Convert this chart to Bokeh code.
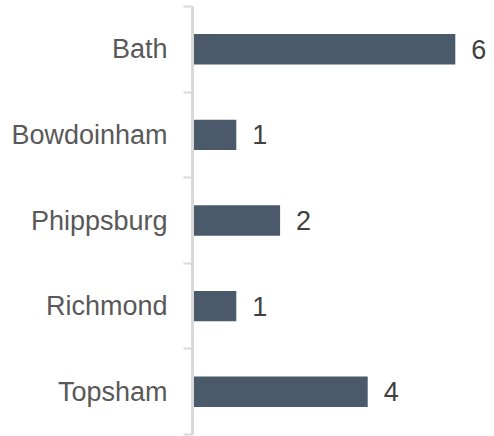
from bokeh.plotting import figure
from bokeh.models import ColumnDataSource, Range1d, FixedTicker
from bokeh.core.properties import value
from bokeh.embed import file_html
from bokeh.resources import INLINE

categories = ["Bath", "Bowdoinham", "Phippsburg", "Richmond", "Topsham"]
counts = [6, 1, 2, 1, 4]
positions = list(range(len(categories)))

source = ColumnDataSource(dict(y=positions, v=counts, lbl=[str(c) for c in counts]))

p = figure(width=494, height=436, output_backend="svg", toolbar_location=None,
           x_range=Range1d(0, 6.895), y_range=Range1d(len(categories) - 0.5, -0.5),
           min_border_left=192, min_border_right=0, min_border_top=6, min_border_bottom=2)

p.hbar(y="y", right="v", left=0, height=0.355, source=source,
       fill_color="#4a5a6b", line_color=None)

p.text(x="v", y="y", text="lbl", source=source, x_offset=16,
       text_baseline="middle", text_align="left",
       text_font=value("Liberation Sans"), text_font_size="27px", text_color="#404040")

p.xaxis.visible = False
p.xgrid.visible = False
p.ygrid.visible = False
p.outline_line_color = None

ax = p.yaxis[0]
ax.ticker = FixedTicker(ticks=positions, minor_ticks=[i - 0.5 for i in range(len(categories) + 1)])
ax.major_label_overrides = {i: c for i, c in enumerate(categories)}
ax.major_label_text_font = "Liberation Sans"
ax.major_label_text_font_size = "27px"
ax.major_label_text_color = "#595959"
ax.major_label_standoff = 16
ax.major_tick_line_color = None
ax.major_tick_out = 0
ax.major_tick_in = 0
ax.minor_tick_line_color = "#d9d9d9"
ax.minor_tick_line_width = 2
ax.minor_tick_out = 9
ax.minor_tick_in = 0
ax.axis_line_color = "#d9d9d9"
ax.axis_line_width = 3

open("out.html", "w").write(file_html(p, INLINE))
